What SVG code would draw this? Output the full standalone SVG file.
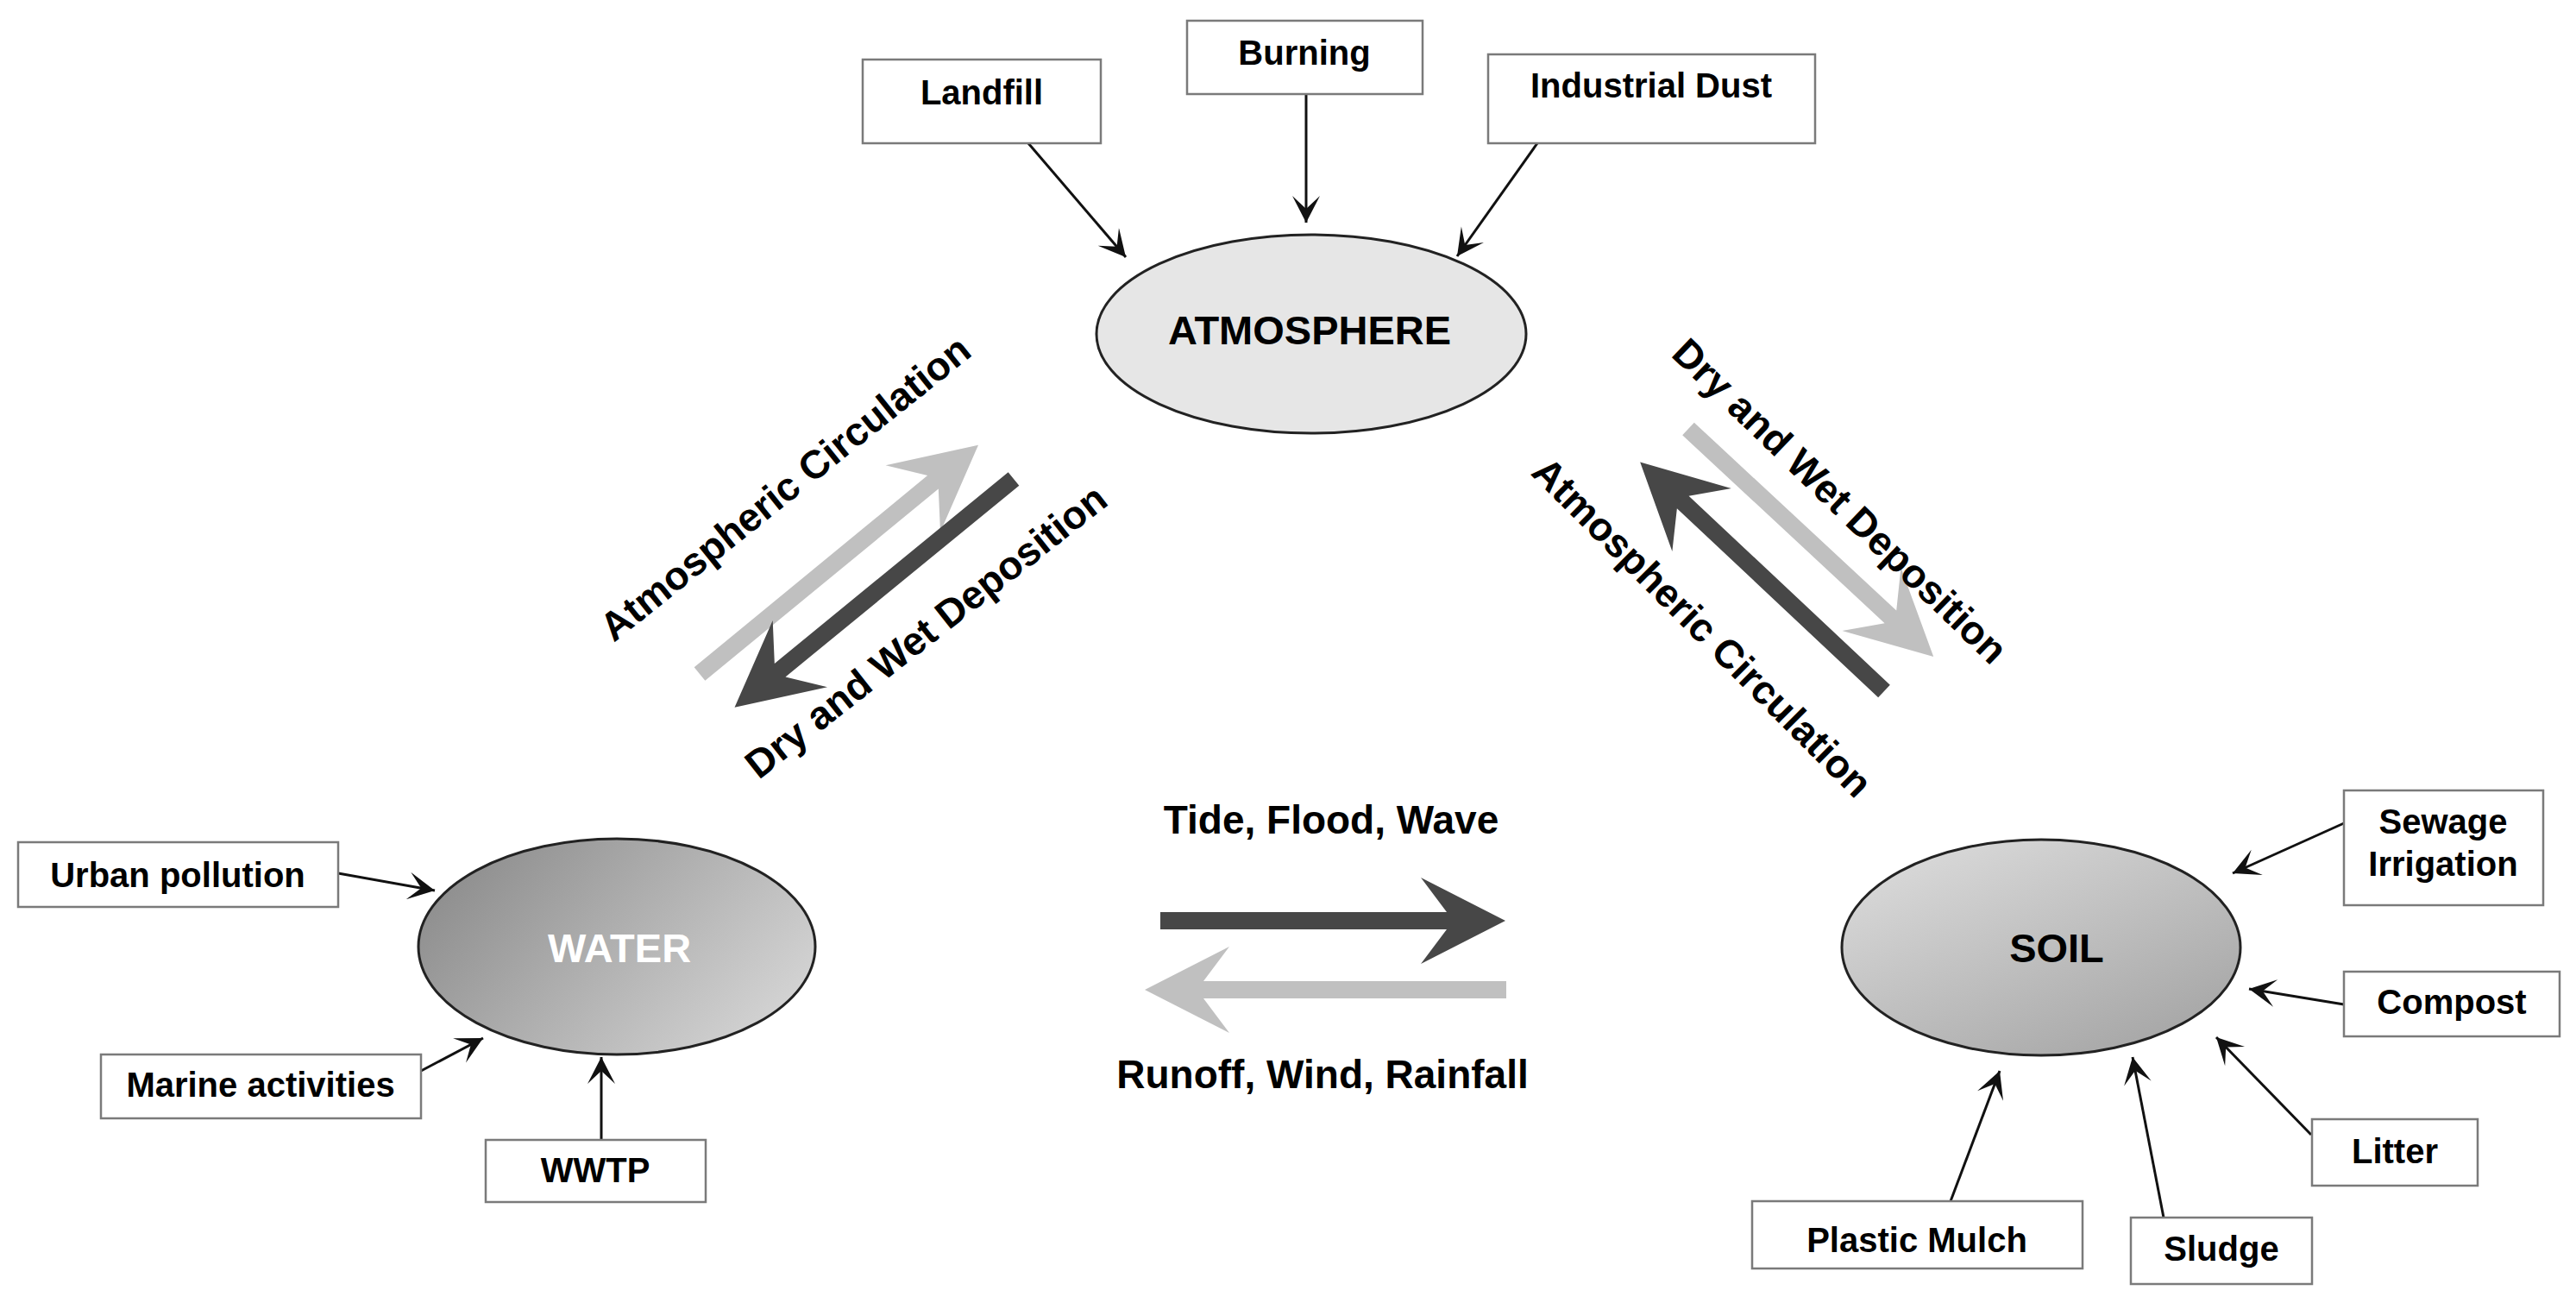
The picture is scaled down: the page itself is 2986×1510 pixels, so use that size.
<svg xmlns="http://www.w3.org/2000/svg" width="2986" height="1510" viewBox="0 0 2986 1510">
<style>
.box{fill:#fff;stroke:#7a7a7a;stroke-width:2.5}
.bt{font-family:"Liberation Sans",Arial,sans-serif;font-weight:bold;font-size:40px;fill:#000;text-anchor:middle}
.ct{font-family:"Liberation Sans",Arial,sans-serif;font-weight:bold;font-size:47px;text-anchor:middle}
.ft{font-family:"Liberation Sans",Arial,sans-serif;font-weight:bold;font-size:46px;fill:#000;text-anchor:middle}
.ell{stroke:#222;stroke-width:3}
.con{stroke:#111;stroke-width:3;fill:none;marker-end:url(#ah)}
.dark{fill:#474747}
.light{fill:#c0c0c0}
</style>
<defs>
<marker id="ah" markerUnits="userSpaceOnUse" markerWidth="34" markerHeight="34" refX="32" refY="16" orient="auto">
<path d="M32,16 L1,0 L16,16 L1,32 Z" fill="#111"/>
</marker>
<linearGradient id="gWater" x1="0" y1="0.25" x2="1" y2="0.75">
<stop offset="0" stop-color="#8c8c8c"/>
<stop offset="1" stop-color="#d6d6d6"/>
</linearGradient>
<linearGradient id="gSoil" x1="0.1" y1="0" x2="0.9" y2="1">
<stop offset="0" stop-color="#dddddd"/>
<stop offset="1" stop-color="#a2a2a2"/>
</linearGradient>
</defs>
<rect width="2986" height="1510" fill="#fff"/>

<g id="flows">
<g transform="translate(811,781) rotate(-39.4)"><polygon class="light" points="0,-10 350,-10 320,-50 418,0 320,50 350,10 0,10"/></g>
<g transform="translate(1175,555) rotate(140.7)"><polygon class="dark" points="0,-10 350,-10 320,-50 418,0 320,50 350,10 0,10"/></g>
<g transform="translate(1957,497) rotate(42.9)"><polygon class="light" points="0,-10 320,-10 290,-50 388,0 290,50 320,10 0,10"/></g>
<g transform="translate(2184,801) rotate(-136.8)"><polygon class="dark" points="0,-10 320,-10 290,-50 388,0 290,50 320,10 0,10"/></g>
<g transform="translate(1345,1067)"><polygon class="dark" points="0,-10 332,-10 302,-50 400,0 302,50 332,10 0,10"/></g>
<g transform="translate(1746,1147) rotate(180)"><polygon class="light" points="0,-10 351,-10 321,-50 419,0 321,50 351,10 0,10"/></g>
<text class="ft" transform="translate(920,578) rotate(-38.7)">Atmospheric Circulation</text>
<text class="ft" transform="translate(1083,744) rotate(-38.2)">Dry and Wet Deposition</text>
<text class="ft" transform="translate(2122,592) rotate(44)">Dry and Wet Deposition</text>
<text class="ft" transform="translate(1962,738) rotate(45)">Atmospheric Circulation</text>
<text class="ft" x="1543" y="966">Tide, Flood, Wave</text>
<text class="ft" x="1533" y="1261">Runoff, Wind, Rainfall</text>
</g>

<g id="connectors">
<line class="con" x1="1192" y1="166" x2="1305" y2="298"/>
<line class="con" x1="1514" y1="109" x2="1514" y2="258"/>
<line class="con" x1="1782" y1="166" x2="1689" y2="297"/>
<line class="con" x1="392" y1="1012" x2="504" y2="1032"/>
<line class="con" x1="488" y1="1241" x2="560" y2="1203"/>
<line class="con" x1="697" y1="1321" x2="697" y2="1225"/>
<line class="con" x1="2717" y1="954" x2="2588" y2="1012"/>
<line class="con" x1="2717" y1="1164" x2="2607" y2="1146"/>
<line class="con" x1="2679" y1="1315" x2="2569" y2="1202"/>
<line class="con" x1="2508" y1="1411" x2="2472" y2="1225"/>
<line class="con" x1="2261" y1="1392" x2="2318" y2="1241"/>
</g>

<g id="atmosphere">
<ellipse class="ell" cx="1520" cy="387" rx="249" ry="115" fill="#e6e6e6"/>
<text class="ct" x="1518" y="399" fill="#000">ATMOSPHERE</text>
</g>
<g id="water">
<ellipse class="ell" cx="715" cy="1097" rx="230" ry="125" fill="url(#gWater)"/>
<text class="ct" x="718" y="1115" fill="#fff" font-size="45">WATER</text>
</g>
<g id="soil">
<ellipse class="ell" cx="2366" cy="1098" rx="231" ry="125" fill="url(#gSoil)"/>
<text class="ct" x="2384" y="1115" fill="#000" font-size="46">SOIL</text>
</g>

<g id="landfill"><rect class="box" x="1000" y="69" width="276" height="97"/><text class="bt" x="1138" y="121">Landfill</text></g>
<g id="burning"><rect class="box" x="1376" y="24" width="273" height="85"/><text class="bt" x="1512" y="75">Burning</text></g>
<g id="industrial-dust"><rect class="box" x="1725" y="63" width="379" height="103"/><text class="bt" x="1914" y="113">Industrial Dust</text></g>
<g id="urban-pollution"><rect class="box" x="21" y="976" width="371" height="75"/><text class="bt" x="206" y="1028">Urban pollution</text></g>
<g id="marine-activities"><rect class="box" x="117" y="1222" width="371" height="74"/><text class="bt" x="302" y="1271">Marine activities</text></g>
<g id="wwtp"><rect class="box" x="563" y="1321" width="255" height="72"/><text class="bt" x="690" y="1370">WWTP</text></g>
<g id="sewage-irrigation"><rect class="box" x="2717" y="916" width="231" height="133"/><text class="bt" x="2832" y="966">Sewage</text><text class="bt" x="2832" y="1015">Irrigation</text></g>
<g id="compost"><rect class="box" x="2717" y="1126" width="250" height="75"/><text class="bt" x="2842" y="1175">Compost</text></g>
<g id="litter"><rect class="box" x="2680" y="1297" width="192" height="77"/><text class="bt" x="2776" y="1348">Litter</text></g>
<g id="plastic-mulch"><rect class="box" x="2031" y="1392" width="383" height="78"/><text class="bt" x="2222" y="1451">Plastic Mulch</text></g>
<g id="sludge"><rect class="box" x="2470" y="1411" width="210" height="77"/><text class="bt" x="2575" y="1461">Sludge</text></g>
</svg>
